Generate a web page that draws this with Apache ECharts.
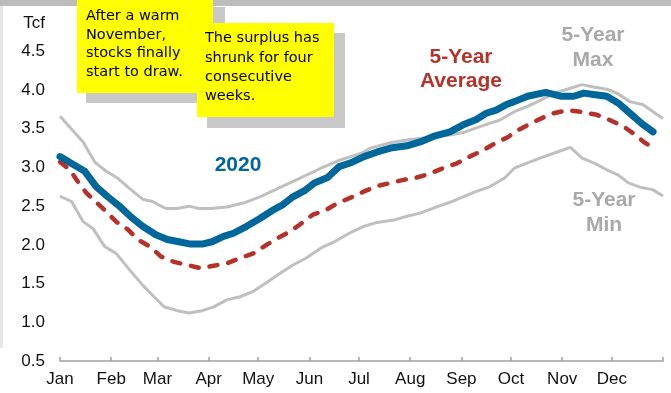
<!DOCTYPE html>
<html>
<head>
<meta charset="utf-8">
<script src="https://cdn.jsdelivr.net/npm/echarts@6/dist/echarts.min.js"></script>
<style>
html,body{margin:0;padding:0;background:#fff;}
#chart{width:671px;height:393px;}
</style>
</head>
<body>
<div id="chart"></div>
<script>
// Month labels and month-start day positions (day of year)
const monthNames = ['Jan','Feb','Mar','Apr','May','Jun','Jul','Aug','Sep','Oct','Nov','Dec'];
const monthStarts = [0,31,59,90,120,151,181,212,243,273,304,334];
const yearEnd = 365;
const yTicks = [0.5,1.0,1.5,2.0,2.5,3.0,3.5,4.0,4.5,5.0];

// 5-Year Max (Tcf)
const maxDays = [0,14,21,28,35,42,50,56,64,71,78,84,91,101,111,121,133,145,157,170,176,182,188,200,212,224,236,244,252,260,266,275,283,291,299,307,316,323,331,337,345,353,359,365];
const maxVals = [3.66,3.33,3.07,2.95,2.86,2.73,2.59,2.56,2.47,2.47,2.50,2.47,2.47,2.49,2.54,2.62,2.74,2.86,2.98,3.10,3.14,3.18,3.25,3.32,3.36,3.39,3.42,3.45,3.51,3.57,3.61,3.72,3.79,3.87,3.96,4.01,4.07,4.04,4.01,3.96,3.85,3.81,3.72,3.63];

// 2020 (Tcf)
const blueDays = [0,7,15,22,29,36,43,50,58,65,72,79,86,92,99,105,113,121,129,135,141,148,154,162,169,176,184,192,200,210,218,226,236,244,252,258,264,271,275,283,294,303,311,317,324,331,338,345,352,359];
const blueVals = [3.14,3.05,2.95,2.75,2.62,2.50,2.36,2.24,2.13,2.07,2.04,2.01,2.01,2.04,2.11,2.15,2.24,2.34,2.45,2.52,2.62,2.70,2.80,2.87,3.01,3.06,3.14,3.20,3.25,3.28,3.33,3.40,3.46,3.55,3.62,3.70,3.74,3.82,3.85,3.92,3.97,3.92,3.92,3.96,3.94,3.92,3.83,3.70,3.57,3.46];

// 5-Year Average (Tcf)
const avgDays = [0,6,10,16,22,28,34,41,47,55,61,69,77,85,93,101,109,117,125,132,139,145,153,161,168,176,184,192,200,208,216,224,234,240,248,256,264,271,277,287,297,307,315,325,333,341,347,354,361];
const avgVals = [3.07,2.97,2.84,2.67,2.55,2.43,2.30,2.20,2.07,1.97,1.85,1.78,1.74,1.70,1.73,1.76,1.83,1.89,2.00,2.09,2.17,2.26,2.39,2.45,2.54,2.61,2.69,2.76,2.80,2.84,2.87,2.92,3.01,3.05,3.14,3.22,3.32,3.39,3.48,3.59,3.69,3.74,3.72,3.68,3.61,3.53,3.44,3.32,3.23];

// 5-Year Min (Tcf)
const minDays = [0,7,14,20,27,34,42,50,56,63,71,78,86,93,101,109,117,125,133,141,149,158,166,176,184,192,202,210,218,228,236,244,252,260,269,275,283,293,301,309,316,324,331,338,344,352,359,365];
const minVals = [2.63,2.56,2.30,2.21,1.98,1.89,1.68,1.48,1.35,1.20,1.15,1.12,1.15,1.20,1.29,1.33,1.40,1.51,1.63,1.74,1.83,1.96,2.04,2.16,2.24,2.29,2.32,2.37,2.41,2.49,2.55,2.62,2.69,2.75,2.86,2.99,3.06,3.14,3.20,3.26,3.12,3.05,2.97,2.90,2.80,2.74,2.71,2.63];

const note1 = ['After a warm','November,','stocks finally','start to draw.'];
const note2 = ['The surplus has','shrunk for four','consecutive','weeks.'];

function zip(d, v){ return d.map((x,i)=>[x, v[i]]); }

const chart = echarts.init(document.getElementById('chart'), null, {renderer:'canvas'});
const FONT = '"Liberation Sans", Arial, sans-serif';
const NOTEFONT = '"DejaVu Sans", sans-serif';
const grey = '#bfbfbf';

chart.setOption({
  animation:false,
  backgroundColor:'#ffffff',
  grid:{left:60,right:8,top:12.6,bottom:32},
  xAxis:{
    type:'value', min:0, max:yearEnd,
    splitLine:{show:false},
    axisLine:{show:true,lineStyle:{color:'#a0a0a0',width:1.5}},
    axisTick:{show:true,inside:true,length:4,customValues:monthStarts.concat([yearEnd]),lineStyle:{color:'#a0a0a0',width:1.5}},
    axisLabel:{customValues:monthStarts,color:'#111',fontFamily:FONT,fontSize:17,margin:10,
      formatter:function(v){ const i=monthStarts.indexOf(v); return i>=0?monthNames[i]:''; }}
  },
  yAxis:{
    type:'value', min:yTicks[0], max:yTicks[yTicks.length-1], interval:0.5,
    splitLine:{show:false},
    axisLine:{show:false}, axisTick:{show:false},
    axisLabel:{color:'#111',fontFamily:FONT,fontSize:17,margin:15,
      formatter:function(v){ return v>=5?'':v.toFixed(1); }}
  },
  series:[
    {type:'line',data:zip(maxDays,maxVals),showSymbol:false,lineStyle:{color:grey,width:3},z:2},
    {type:'line',data:zip(minDays,minVals),showSymbol:false,lineStyle:{color:grey,width:3},z:2},
    {type:'line',data:zip(avgDays,avgVals),showSymbol:false,lineStyle:{color:'#b5322a',width:4.5,type:[8,11],cap:'round'},z:3},
    {type:'line',data:zip(blueDays,blueVals),showSymbol:false,lineStyle:{color:'#00679a',width:7,join:'round',cap:'round'},z:4}
  ],
  graphic:[
    {type:'rect',shape:{x:0,y:0,width:671,height:6},style:{fill:'#bcbcbc'},z:0},
    {type:'rect',shape:{x:0,y:6,width:3,height:342},style:{fill:'#e6e6e6'},z:0},
    {type:'text',style:{text:'Tcf',x:45,y:23,textAlign:'right',textVerticalAlign:'middle',fill:'#111',font:'17px '+FONT}},
    // note 1
    {type:'rect',shape:{x:86,y:7,width:139,height:96},style:{fill:'#c8c8c8'},z:20},
    {type:'rect',shape:{x:77,y:0,width:136,height:93},style:{fill:'#ffff00'},z:21},
    {type:'text',z:22,style:{text:note1.join('\n'),x:86,y:7,fill:'#000',font:'14.5px '+NOTEFONT,lineHeight:18.6}},
    // note 2
    {type:'rect',shape:{x:207,y:33,width:138,height:95},style:{fill:'#c8c8c8'},z:20},
    {type:'rect',shape:{x:197,y:23,width:137,height:94},style:{fill:'#ffff00'},z:21},
    {type:'text',z:22,style:{text:note2.join('\n'),x:205,y:29,fill:'#000',font:'14.5px '+NOTEFONT,lineHeight:19.3}},
    // series labels
    {type:'text',z:10,style:{text:'2020',x:238,y:165,textAlign:'center',textVerticalAlign:'middle',fill:'#00679a',font:'bold 21px '+FONT}},
    {type:'text',z:10,style:{text:'5-Year\nAverage',x:461,y:69,textAlign:'center',textVerticalAlign:'middle',fill:'#b5322a',font:'bold 21px '+FONT,lineHeight:24}},
    {type:'text',z:10,style:{text:'5-Year\nMax',x:593,y:48,textAlign:'center',textVerticalAlign:'middle',fill:'#a9a9a9',font:'bold 21px '+FONT,lineHeight:25}},
    {type:'text',z:10,style:{text:'5-Year\nMin',x:604,y:213,textAlign:'center',textVerticalAlign:'middle',fill:'#a9a9a9',font:'bold 21px '+FONT,lineHeight:25}}
  ]
});
</script>
</body>
</html>
